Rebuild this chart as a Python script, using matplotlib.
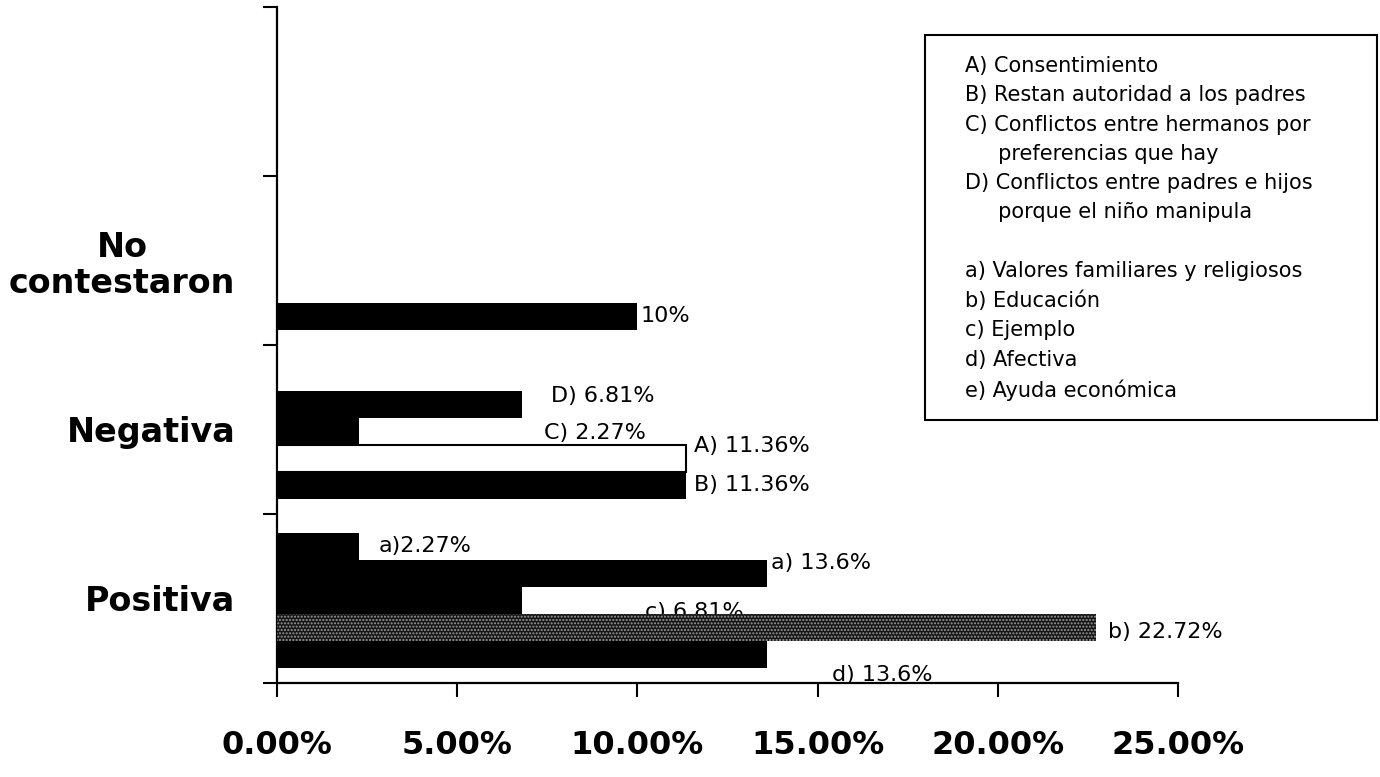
import matplotlib.pyplot as plt
from matplotlib.patches import Rectangle

# datos (porcentajes)
categories = ['Positiva', 'Negativa', 'No\ncontestaron']

pos_labels = ['d) 13.6%', 'b) 22.72%', 'c) 6.81%', 'a) 13.6%', 'a)2.27%']
pos_values = [13.6, 22.72, 6.81, 13.6, 2.27]

neg_labels = ['B) 11.36%', 'A) 11.36%', 'C) 2.27%', 'D) 6.81%']
neg_values = [11.36, 11.36, 2.27, 6.81]

nc_labels = ['10%']
nc_values = [10]

x_ticks = [0, 5, 10, 15, 20, 25]
x_tick_labels = ['0.00%', '5.00%', '10.00%', '15.00%', '20.00%', '25.00%']

legend_lines = [
    'A) Consentimiento',
    'B) Restan autoridad a los padres',
    'C) Conflictos entre hermanos por',
    '     preferencias que hay',
    'D) Conflictos entre padres e hijos',
    '     porque el niño manipula',
    '',
    'a) Valores familiares y religiosos',
    'b) Educación',
    'c) Ejemplo',
    'd) Afectiva',
    'e) Ayuda económica',
]

# estilos y posiciones de las etiquetas (dx en %, dy en unidades de eje)
pos_styles = [dict(color='black'),
              dict(color='#151515', edgecolor='#9a9a9a', hatch='.....', linewidth=0),
              dict(color='black'), dict(color='black'), dict(color='black')]
pos_offsets = [(1.8, -0.12), (0.35, -0.03), (3.4, -0.07), (0.1, 0.06), (0.55, 0.0)]

neg_styles = [dict(color='black'),
              dict(facecolor='white', edgecolor='black', linewidth=1.5),
              dict(color='black'), dict(color='black')]
neg_offsets = [(0.2, 0.0), (0.2, 0.07), (5.15, -0.01), (0.8, 0.05)]

nc_styles = [dict(color='black')]
nc_offsets = [(0.1, 0.0)]

BAR_H = 0.16
START = 0.09
label_font = dict(fontsize=16, family='DejaVu Sans')


def draw_group(ax, idx, values, labels, styles, offsets):
    for i, (v, lab, st, off) in enumerate(zip(values, labels, styles, offsets)):
        y = idx + START + BAR_H * (i + 0.5)
        ax.barh(y, v, height=BAR_H, zorder=3, **st)
        ax.text(v + off[0], y + off[1], lab, va='center', ha='left',
                zorder=2, **label_font)


fig = plt.figure(figsize=(13.8, 7.77), dpi=100)
ax = fig.add_axes([0.2007, 0.121, 0.6529, 0.870])

draw_group(ax, 0, pos_values, pos_labels, pos_styles, pos_offsets)
draw_group(ax, 1, neg_values, neg_labels, neg_styles, neg_offsets)
draw_group(ax, 2, nc_values, nc_labels, nc_styles, nc_offsets)

ax.set_xlim(0, 25)
ax.set_ylim(0, 4)
for s in ['top', 'right']:
    ax.spines[s].set_visible(False)
for s in ['left', 'bottom']:
    ax.spines[s].set_linewidth(1.6)

ax.set_xticks(x_ticks)
ax.set_xticklabels(x_tick_labels, fontsize=23, fontweight='bold', family='DejaVu Sans')
ax.tick_params(axis='x', direction='out', length=10, width=1.5, pad=24)

ax.set_yticks([0, 1, 2, 3, 4])
ax.set_yticklabels([])
ax.tick_params(axis='y', which='major', direction='out', length=10, width=1.5)
ax.set_yticks([0.5, 1.5, 2.5], minor=True)
ax.set_yticklabels(categories, minor=True, fontsize=24, fontweight='bold',
                   family='DejaVu Sans')
ax.tick_params(axis='y', which='minor', length=0, pad=30)
for t in ax.get_yticklabels(minor=True):
    t.set_multialignment('center')
    t.set_linespacing(1.1)

# recuadro de la leyenda
fig.patches.append(Rectangle((0.670, 0.4595), 0.3275, 0.4955, transform=fig.transFigure,
                             fill=False, edgecolor='black', linewidth=1.5))
fig.text(0.699, 1 - 56 / 777, '\n'.join(legend_lines), ha='left', va='top',
         fontsize=15, linespacing=1.58, family='DejaVu Sans')

plt.savefig('out.png', dpi=100)
